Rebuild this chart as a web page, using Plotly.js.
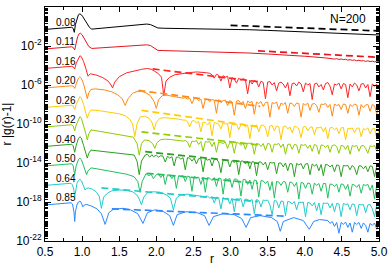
<!DOCTYPE html>
<html><head><meta charset="utf-8">
<script src="https://cdn.plot.ly/plotly-3.0.1.min.js"></script>
<style>html,body{margin:0;padding:0;background:#fff}#c{width:390px;height:266px}</style>
</head><body><div id="c"></div>
<script>
// densities (curve labels) and vertical display offsets (decades)
const DENS = ['0.08','0.11','0.16','0.20','0.26','0.32','0.40','0.50','0.64','0.85'];
const SHIFT = [0,-2,-4,-6,-8,-10,-12,-14,-16,-18];
const COLORS = ['#000000','#e8141c','#ff2424','#ff8a14','#ffcc00','#8fcc00','#2aa020','#22c060','#22cccc','#2a88ff'];

// shared r grid for the noisy tails
const TR = [2.00,2.03,2.06,2.09,2.12,2.15,2.18,2.21,2.24,2.27,2.30,2.33,2.36,2.39,2.42,2.45,2.48,2.51,2.54,2.57,2.60,2.63,2.66,2.69,2.72,2.75,2.78,2.81,2.84,2.87,2.90,2.93,2.96,2.99,3.02,3.05,3.08,3.11,3.14,3.17,3.20,3.23,3.26,3.29,3.32,3.35,3.38,3.41,3.44,3.47,3.50,3.53,3.56,3.59,3.62,3.65,3.68,3.71,3.74,3.77,3.80,3.83,3.86,3.89,3.92,3.95,3.98,4.01,4.04,4.07,4.10,4.13,4.16,4.19,4.22,4.25,4.28,4.31,4.34,4.37,4.40,4.43,4.46,4.49,4.52,4.55,4.58,4.61,4.64,4.67,4.70,4.73,4.76,4.79,4.82,4.85,4.88,4.91,4.94,4.97,5.00];

// log10 of r|g(r)-1| (before the display offset): head r/values + tail values on TR (right-aligned)
const r008 = [0.5,0.6,0.7,0.8,0.86,0.88,0.895,0.91,0.93,0.95,0.97,0.99,1.01,1.04,1.07,1.1,1.13,1.2,1.3,1.4,1.5,1.6,1.7,1.8,1.87,1.92,1.97,2.02,2.1,2.3,2.5,2.75,3.0,3.25,3.5,3.75,4.0,4.25,4.5,4.75,5.0];
const u008 = [-0.30,-0.22,-0.155,-0.10,-0.08,-0.2,-0.6,0.2,0.85,1.2,1.3,1.2,1.0,0.6,0.2,-0.1,-0.27,-0.22,-0.15,-0.08,-0.02,0.04,0.12,0.2,0.25,0.2,0.0,-0.15,-0.18,-0.2,-0.22,-0.25,-0.28,-0.33,-0.4,-0.47,-0.55,-0.63,-0.71,-0.79,-0.87];
const t008 = [];

const r011 = [0.5,0.6,0.7,0.8,0.86,0.88,0.9,0.92,0.94,0.96,0.98,1.0,1.03,1.06,1.09,1.13,1.2,1.3,1.4,1.5,1.6,1.7,1.8,1.87,1.92,1.97,2.02,2.1,2.3,2.5,2.75,3.0,3.25,3.5,3.75,4.0,4.28];
const u011 = [-0.30,-0.22,-0.155,-0.10,-0.08,-0.15,-0.4,0.3,0.95,1.25,1.3,1.15,0.75,0.3,-0.05,-0.25,-0.22,-0.17,-0.12,-0.07,-0.02,0.04,0.1,0.12,0.05,-0.2,-0.45,-0.47,-0.5,-0.55,-0.6,-0.65,-0.72,-0.82,-0.92,-1.05,-1.22];
const t011 = [-1.25,-1.3,-1.27,-1.34,-1.3,-1.38,-1.33,-1.4,-1.36,-1.45,-1.4,-1.47,-1.43,-1.52,-1.46,-1.53,-1.5,-1.58,-1.52,-1.6,-1.55,-1.63,-1.57,-1.6];

const r016 = [0.5,0.6,0.7,0.8,0.86,0.88,0.9,0.92,0.95,0.97,0.99,1.02,1.05,1.08,1.11,1.15,1.2,1.28,1.35,1.39,1.41,1.44,1.5,1.6,1.7,1.8,1.87,1.93,1.98,2.03,2.07,2.1,2.13,2.18,2.25,2.35,2.45,2.55,2.62,2.68];
const u016 = [-0.30,-0.22,-0.155,-0.10,-0.08,-0.15,-0.35,0.2,0.8,1.0,0.9,0.4,-0.3,-1.1,-0.85,-0.9,-1.0,-1.25,-1.6,-2.0,-2.3,-1.7,-1.15,-0.75,-0.55,-0.4,-0.3,-0.38,-0.6,-0.85,-1.2,-3.1,-1.6,-1.2,-0.95,-0.82,-0.72,-0.66,-0.68,-0.75];
const t016 = [-0.8,-0.95,-1.3,-0.9,-1.0,-1.6,-1.05,-1.2,-1.1,-2.3,-1.25,-1.4,-1.8,-1.3,-1.5,-1.35,-1.45,-2.9,-1.5,-1.9,-1.55,-1.65,-2.2,-1.6,-1.75,-3.4,-1.7,-1.65,-2.0,-1.75,-2.6,-1.8,-1.7,-1.9,-2.3,-1.75,-3.1,-1.85,-1.8,-2.1,-1.7,-1.9,-2.7,-1.8,-2.0,-1.85,-3.5,-1.9,-1.8,-2.2,-1.95,-2.5,-1.85,-1.75,-2.1,-3.0,-1.9,-2.0,-1.8,-2.4,-1.85,-1.95,-3.3,-1.9,-2.2,-1.8,-2.0,-2.6,-1.9,-1.85,-2.3,-1.95,-3.2,-1.9,-2.1,-1.95,-2.2];

const r020 = [0.5,0.6,0.7,0.8,0.86,0.88,0.9,0.92,0.95,0.97,0.99,1.02,1.05,1.07,1.09,1.12,1.18,1.3,1.4,1.48,1.54,1.58,1.62,1.68,1.74,1.8,1.86,1.92,1.97,2.0,2.03,2.08,2.14,2.2,2.26,2.32,2.36];
const u020 = [-0.30,-0.22,-0.155,-0.10,-0.08,-0.12,-0.35,0.1,0.7,0.85,0.7,0.1,-0.8,-1.4,-0.8,-0.45,-0.4,-0.5,-0.7,-1.0,-1.4,-2.1,-1.4,-0.85,-0.65,-0.65,-0.8,-1.1,-1.7,-2.4,-1.5,-1.1,-1.05,-1.15,-1.2,-1.3,-1.35];
const t020 = [-1.3,-1.45,-1.35,-1.9,-1.4,-1.35,-1.6,-1.45,-2.4,-1.5,-1.45,-1.7,-1.5,-1.55,-2.9,-1.5,-1.8,-1.6,-1.55,-2.1,-1.6,-1.75,-3.1,-1.65,-1.6,-1.9,-1.7,-2.4,-1.65,-1.8,-1.7,-3.0,-1.75,-1.9,-1.7,-2.2,-1.8,-1.75,-3.3,-1.8,-1.9,-1.75,-2.5,-1.85,-2.0,-1.8,-2.9,-1.85,-1.9,-2.2,-1.85,-1.9,-3.3,-1.9,-2.05,-1.85,-2.6,-1.95,-1.9,-2.1,-2.8,-1.95,-2.0,-1.9,-2.3,-2.0,-3.2,-1.95,-2.1,-2.0,-2.5,-1.95,-2.0,-2.9,-2.0,-2.2,-1.95,-2.05,-3.1,-2.0,-2.3,-2.05,-2.0,-2.7,-2.0,-2.15,-3.0,-2.1];

const r026 = [0.5,0.6,0.7,0.8,0.86,0.88,0.9,0.92,0.95,0.97,0.99,1.02,1.05,1.07,1.09,1.12,1.2,1.3,1.4,1.5,1.58,1.64,1.68,1.71,1.74,1.78,1.84,1.9,1.94,1.97,2.0,2.05,2.12,2.2,2.3,2.36];
const u026 = [-0.30,-0.22,-0.155,-0.10,-0.08,-0.15,-0.5,0.0,0.6,0.8,0.65,0.0,-0.9,-1.4,-0.9,-0.56,-0.6,-0.7,-0.8,-0.95,-1.15,-1.5,-2.0,-3.3,-2.0,-1.3,-1.2,-1.4,-1.8,-2.6,-1.8,-1.4,-1.35,-1.4,-1.5,-1.6];
const t026 = [-1.6,-1.75,-2.3,-1.7,-1.65,-1.9,-1.75,-2.8,-1.8,-1.85,-2.1,-1.8,-3.2,-1.85,-1.9,-2.0,-2.5,-1.9,-2.0,-1.95,-3.4,-2.0,-2.1,-2.0,-2.6,-2.05,-2.0,-2.3,-2.1,-3.5,-2.1,-2.2,-2.1,-2.8,-2.15,-2.1,-2.4,-3.3,-2.2,-2.15,-2.7,-2.2,-2.3,-3.6,-2.25,-2.2,-2.5,-2.3,-2.9,-2.25,-2.3,-2.5,-3.4,-2.3,-2.25,-2.7,-2.35,-2.3,-3.1,-2.35,-2.4,-2.3,-2.8,-2.35,-3.5,-2.4,-2.35,-2.6,-2.4,-3.0,-2.4,-2.35,-3.6,-2.45,-2.5,-2.4,-2.9,-2.45,-2.4,-3.3,-2.45,-2.6,-2.4,-3.0,-2.5,-2.45,-3.5,-2.5];

const r032 = [0.5,0.6,0.7,0.8,0.86,0.88,0.9,0.92,0.95,0.97,0.99,1.02,1.05,1.07,1.09,1.12,1.2,1.3,1.4,1.5,1.6,1.69,1.74,1.77,1.8,1.84,1.9,1.95,1.98,2.01,2.06,2.12,2.2,2.3,2.36];
const u032 = [-0.30,-0.22,-0.155,-0.10,-0.08,-0.2,-0.7,-0.1,0.55,0.75,0.6,-0.1,-1.0,-1.64,-1.0,-0.6,-0.7,-0.8,-0.95,-1.05,-1.2,-1.35,-2.0,-3.2,-2.0,-1.64,-1.7,-2.0,-2.5,-1.9,-1.6,-1.55,-1.6,-1.7,-1.75];
const t032 = [-1.7,-1.85,-2.4,-1.75,-1.8,-1.7,-2.1,-1.8,-2.8,-1.8,-1.85,-1.8,-2.3,-1.85,-2.9,-1.85,-1.9,-2.0,-1.85,-2.5,-1.9,-1.95,-3.0,-1.9,-1.95,-2.2,-1.95,-2.6,-1.95,-2.0,-1.95,-3.1,-2.0,-2.05,-2.3,-2.0,-2.7,-2.0,-2.05,-2.9,-2.05,-2.1,-2.0,-2.4,-2.05,-3.1,-2.1,-2.05,-2.6,-2.1,-2.15,-3.0,-2.1,-2.2,-2.1,-2.5,-2.15,-2.8,-2.1,-2.2,-3.1,-2.15,-2.2,-2.4,-2.15,-2.9,-2.2,-2.15,-2.3,-3.0,-2.2,-2.25,-2.6,-2.2,-3.1,-2.2,-2.3,-2.2,-2.8,-2.25,-2.2,-2.5,-3.0,-2.25,-2.3,-2.2,-2.8,-2.3];

const r040 = [0.5,0.6,0.7,0.8,0.86,0.88,0.9,0.92,0.95,0.97,0.99,1.02,1.05,1.07,1.09,1.12,1.2,1.3,1.4,1.5,1.6,1.7,1.74,1.77,1.8,1.85,1.88,1.91,1.94,1.96];
const u040 = [-0.30,-0.22,-0.155,-0.10,-0.08,-0.25,-0.9,-0.2,0.5,0.7,0.55,-0.2,-1.0,-1.5,-1.0,-0.67,-0.75,-0.85,-0.95,-1.05,-1.1,-1.18,-1.8,-3.2,-1.8,-1.18,-1.1,-1.4,-1.15,-1.35];
const t040 = [-1.2,-1.4,-1.25,-1.3,-1.9,-1.3,-1.5,-1.35,-2.3,-1.4,-1.4,-1.6,-1.45,-2.7,-1.45,-1.5,-1.8,-1.5,-2.1,-1.55,-1.55,-2.9,-1.6,-1.7,-1.6,-2.3,-1.65,-1.6,-1.9,-3.0,-1.7,-1.75,-1.7,-2.4,-1.75,-1.95,-1.75,-3.2,-1.8,-1.8,-2.1,-1.8,-2.6,-1.85,-1.9,-3.3,-1.9,-1.9,-2.2,-1.9,-2.7,-1.95,-2.0,-1.95,-3.1,-2.0,-2.0,-2.4,-2.0,-2.8,-2.05,-2.1,-3.4,-2.05,-2.2,-2.05,-2.6,-2.1,-2.05,-3.2,-2.1,-2.3,-2.15,-2.8,-2.15,-3.3,-2.15,-2.2,-2.4,-2.2,-2.9,-2.2,-2.25,-3.4,-2.25,-2.3,-2.25,-2.7,-2.25,-2.5,-3.2,-2.3,-2.3,-2.6,-2.3,-2.9,-2.3,-2.35,-3.4,-2.3,-2.4];

const r050 = [0.5,0.6,0.7,0.8,0.86,0.88,0.9,0.92,0.95,0.97,0.99,1.02,1.04,1.06,1.08,1.12,1.2,1.3,1.4,1.51,1.6,1.7,1.75,1.78,1.81,1.86,1.9,1.93,1.96];
const u050 = [-0.30,-0.22,-0.155,-0.10,-0.08,-0.3,-1.2,-0.3,0.35,0.5,0.35,-0.3,-0.8,-1.2,-0.8,-0.5,-0.6,-0.75,-0.9,-1.06,-1.15,-1.4,-1.9,-3.0,-1.9,-1.1,-1.3,-1.15,-1.6];
const t050 = [-1.2,-1.1,-1.5,-1.15,-2.2,-1.2,-1.25,-1.6,-1.25,-2.6,-1.3,-1.35,-1.3,-1.9,-1.35,-1.4,-2.9,-1.4,-1.5,-1.45,-2.2,-1.45,-3.0,-1.5,-1.55,-1.8,-1.5,-2.4,-1.55,-1.6,-3.2,-1.6,-1.7,-1.6,-2.5,-1.65,-1.65,-1.9,-3.4,-1.7,-1.7,-2.2,-1.75,-2.7,-1.75,-1.8,-3.5,-1.8,-1.85,-2.1,-1.85,-2.8,-1.9,-3.6,-1.9,-1.95,-2.3,-1.9,-1.95,-3.0,-1.95,-2.0,-2.4,-2.0,-3.7,-2.0,-2.05,-2.6,-2.05,-2.1,-3.2,-2.05,-2.3,-2.1,-2.9,-2.1,-2.1,-3.6,-2.15,-2.2,-2.4,-2.15,-3.0,-2.15,-2.2,-2.7,-2.2,-3.4,-2.2,-2.25,-2.5,-2.2,-3.1,-2.2,-2.3,-2.2,-2.8,-2.25,-3.7,-2.25,-2.4];

const r064 = [0.5,0.6,0.7,0.8,0.85,0.87,0.89,0.9,0.91,0.93,0.95,0.97,0.99,1.02,1.04,1.06,1.09,1.14,1.19,1.23,1.26,1.29,1.34,1.4,1.5,1.6,1.68,1.74,1.77,1.8,1.83,1.88,1.96,2.05,2.13,2.19,2.23,2.27,2.33,2.42,2.5,2.58,2.64];
const u064 = [-0.30,-0.22,-0.155,-0.10,-0.08,-0.25,-0.8,-1.5,-0.8,-0.1,0.2,0.33,0.2,-0.3,-0.77,-0.6,-0.56,-0.7,-0.95,-1.4,-2.65,-1.5,-1.1,-0.85,-0.77,-0.8,-0.95,-1.3,-1.7,-2.3,-1.5,-1.05,-0.95,-1.0,-1.25,-1.6,-2.8,-1.6,-1.25,-1.2,-1.3,-1.4,-1.45];
const t064 = [-1.4,-1.6,-1.45,-2.1,-1.5,-1.55,-2.7,-1.55,-1.7,-1.6,-2.2,-1.6,-3.0,-1.65,-1.7,-1.65,-2.5,-1.7,-1.75,-1.9,-1.75,-3.2,-1.75,-1.85,-2.5,-1.8,-1.85,-1.8,-2.3,-3.3,-1.85,-1.9,-2.6,-1.9,-1.95,-3.4,-1.95,-2.0,-2.2,-1.95,-2.8,-2.0,-2.05,-2.0,-3.5,-2.05,-2.1,-2.4,-2.05,-2.9,-2.1,-3.3,-2.1,-2.15,-2.1,-2.6,-2.15,-3.0,-2.15,-2.2,-3.5,-2.15,-2.25,-2.2,-2.8,-2.2,-2.25,-3.4,-2.25,-2.3,-2.25,-3.1,-2.3,-2.25,-2.7,-3.5,-2.3,-2.45];

const r085 = [0.5,0.6,0.7,0.8,0.85,0.87,0.89,0.9,0.91,0.93,0.95,0.97,0.99,1.01,1.03,1.06,1.12,1.2,1.26,1.31,1.36,1.42,1.55,1.65,1.75,1.82,1.88,1.98,2.1,2.18,2.23,2.28,2.4,2.55,2.65,2.71,2.77,2.9,3.05,3.15,3.21,3.27,3.4,3.55,3.63,3.67,3.71,3.85,3.98,4.06,4.12,4.2,4.28];
const u085 = [-0.30,-0.22,-0.155,-0.10,-0.08,-0.2,-1.0,-2.0,-1.0,-0.3,0.0,0.1,-0.1,-0.5,-0.3,-0.25,-0.4,-0.7,-1.2,-2.3,-1.1,-0.75,-0.65,-0.8,-1.2,-2.2,-1.1,-0.8,-1.0,-1.4,-2.4,-1.3,-1.0,-1.1,-1.4,-2.4,-1.5,-1.2,-1.3,-1.7,-2.6,-1.6,-1.4,-1.6,-2.0,-3.0,-2.0,-1.6,-1.9,-2.8,-2.0,-1.8,-1.85];
const t085 = [-1.9,-2.2,-2.0,-2.5,-2.1,-3.2,-2.1,-2.3,-2.05,-2.6,-2.15,-3.1,-2.1,-2.3,-2.1,-2.7,-2.15,-2.4,-3.1,-2.2,-2.4,-2.15,-2.8,-2.2];

// dashed guide lines: [r0, r1] and [log value at r0, at r1]
const DASH_R = [[3.0,5.0],[3.37,5.0],[1.95,3.37],[1.76,3.4],[1.8,3.37],[1.8,3.37],[1.85,3.37],[1.87,3.37],[1.26,3.37],[1.4,3.75]];
const DASH_U = [[0.12,-0.45],[-0.5,-1.16],[-0.35,-1.65],[-0.55,-2.2],[-0.6,-2.28],[-0.8,-2.15],[-0.84,-2.03],[-1.06,-2.08],[-0.55,-1.97],[-0.7,-1.45]];

const HEAD_R = [r008,r011,r016,r020,r026,r032,r040,r050,r064,r085];
const HEAD_U = [u008,u011,u016,u020,u026,u032,u040,u050,u064,u085];
const TAIL_U = [t008,t011,t016,t020,t026,t032,t040,t050,t064,t085];

const XT = [0.5,1.0,1.5,2.0,2.5,3.0,3.5,4.0,4.5,5.0];
const XTT = ['0.5','1.0','1.5','2.0','2.5','3.0','3.5','4.0','4.5','5.0'];
const XMINOR = [0.75,1.25,1.75,2.25,2.75,3.25,3.75,4.25,4.75];
const YT_EXP = [2,-2,-6,-10,-14,-18,-22];

const traces = [];
const anns = [];
for (let i = 0; i < DENS.length; i++) {
  const tail = TAIL_U[i];
  const xs = HEAD_R[i].concat(TR.slice(TR.length - tail.length));
  const us = HEAD_U[i].concat(tail);
  traces.push({x: xs, y: us.map(u => Math.pow(10, u + SHIFT[i])), mode: 'lines',
    line: {color: COLORS[i], width: 1}, hoverinfo: 'skip'});
  traces.push({x: DASH_R[i], y: DASH_U[i].map(u => Math.pow(10, u + SHIFT[i])), mode: 'lines',
    line: {color: COLORS[i], width: 1.7, dash: '7px,4px'}, hoverinfo: 'skip'});
  anns.push({x: 0.615, y: -0.22 + SHIFT[i], xref: 'x', yref: 'y',
    text: DENS[i], showarrow: false, xanchor: 'left', yanchor: 'bottom', yshift: -1,
    font: {size: 10, color: '#000'}});
}
anns.push({x: 0.967, y: 0.949, xref: 'paper', yref: 'paper', text: 'N=200', showarrow: false,
  xanchor: 'right', yanchor: 'middle', font: {size: 12, color: '#000'}});

const layout = {
  width: 390, height: 266,
  margin: {l: 45, r: 11, t: 7, b: 25},
  paper_bgcolor: '#fff', plot_bgcolor: '#fff',
  showlegend: false,
  font: {family: 'Liberation Sans, Arial, sans-serif', size: 12, color: '#000'},
  xaxis: {range: [0.5, 5.0], tickmode: 'array', tickvals: XT, ticktext: XTT,
    ticks: 'inside', ticklen: 5, tickcolor: '#000', showline: true, mirror: 'ticks',
    linecolor: '#000', linewidth: 1, showgrid: false, zeroline: false,
    minor: {tickmode: 'array', tickvals: XMINOR, ticks: 'inside', ticklen: 3, tickcolor: '#000', showgrid: false},
    title: {text: 'r', standoff: 1, font: {size: 12}}},
  yaxis: {type: 'log', range: [-22, 2], tickmode: 'array',
    tickvals: YT_EXP.map(e => Math.pow(10, e)),
    ticktext: YT_EXP.map(e => '10<sup>' + e + '</sup>'),
    ticks: 'inside', ticklen: 6, tickcolor: '#000', showline: true, mirror: 'ticks',
    linecolor: '#000', linewidth: 1, showgrid: false, zeroline: false,
    minor: {dtick: 'D1', ticks: 'inside', ticklen: 3, tickcolor: '#000', showgrid: false},
    title: {text: 'r |g(r)-1|', standoff: 2, font: {size: 12}}},
  annotations: anns
};
Plotly.newPlot('c', traces, layout, {staticPlot: true, displayModeBar: false});
</script>
</body></html>
